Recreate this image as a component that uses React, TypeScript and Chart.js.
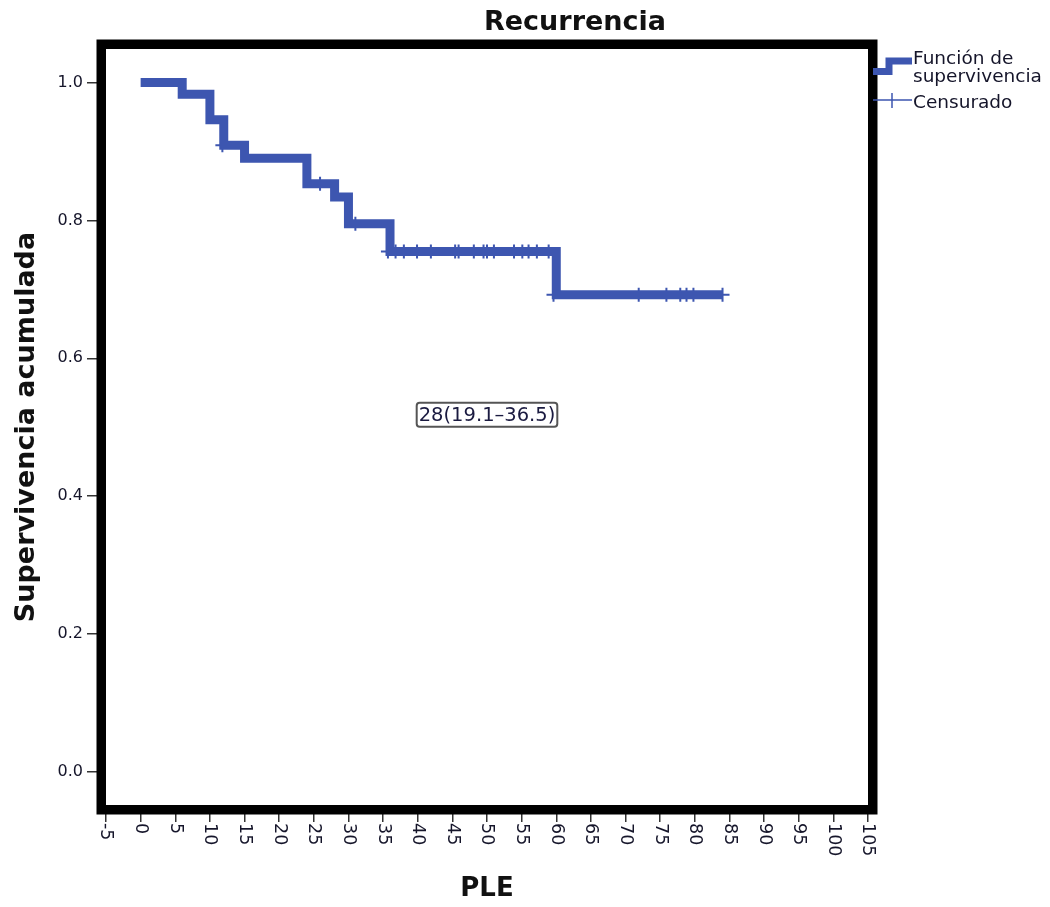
import React, { useEffect, useRef } from "react";
import { Chart, registerables } from "chart.js";

Chart.register(...registerables);

// Kaplan-Meier step curve (time in months, cumulative survival)
const stepTimes = [0, 6, 10, 12, 15, 24, 28, 30, 36, 60, 84];
const stepSurvival = [1.0, 0.983, 0.946, 0.909, 0.89, 0.853, 0.834, 0.795, 0.755, 0.692, 0.692];

// Censored observations
const censorTimes = [
  11.8, 25.9, 31.0, 35.7, 36.8, 38.0, 39.9, 41.9, 45.4, 45.9, 48.1, 49.5, 50.0,
  51.0, 53.9, 55.1, 56.0, 57.2, 58.9, 59.6, 71.9, 75.9, 77.9, 78.8, 79.8, 84.0,
];
const censorSurvival = [
  0.909, 0.853, 0.795, 0.755, 0.755, 0.755, 0.755, 0.755, 0.755, 0.755, 0.755,
  0.755, 0.755, 0.755, 0.755, 0.755, 0.755, 0.755, 0.755, 0.692, 0.692, 0.692,
  0.692, 0.692, 0.692, 0.692,
];

const xMin = -5;
const xMax = 105;
const xStep = 5;
const yMin = -0.048;
const yMax = 1.0486;
const yStep = 0.2;

const titleText = "Recurrencia";
const xTitle = "PLE";
const yTitle = "Supervivencia acumulada";
const legendLabels = ["Función de", "supervivencia", "Censurado"];
const annotationText = "28(19.1–36.5)";
const annotationX = 50;
const annotationY = 0.518;

const BLUE = "#3d56b0";
const FONT = "'DejaVu Sans', sans-serif";
const TEXT = "#15152a";

const decorPlugin = {
  id: "decor",
  afterDraw(chart: any) {
    const { ctx, chartArea } = chart;
    const xs = chart.scales.x;
    const ys = chart.scales.y;
    ctx.save();

    // thick black frame
    const bw = 9.5;
    ctx.strokeStyle = "#000";
    ctx.lineWidth = bw;
    ctx.strokeRect(
      chartArea.left - bw / 2,
      chartArea.top - bw / 2,
      chartArea.right - chartArea.left + bw,
      chartArea.bottom - chartArea.top + bw
    );

    // rotated x tick labels (reading downward)
    ctx.fillStyle = TEXT;
    ctx.font = `17.5px ${FONT}`;
    ctx.textAlign = "left";
    ctx.textBaseline = "middle";
    for (const t of xs.ticks) {
      const px = xs.getPixelForValue(t.value);
      ctx.save();
      ctx.translate(px, chartArea.bottom + 18);
      ctx.rotate(Math.PI / 2);
      ctx.fillText(String(Math.round(t.value)), 0, 0);
      ctx.restore();
    }

    // title
    ctx.font = `bold 27px ${FONT}`;
    ctx.textAlign = "center";
    ctx.textBaseline = "middle";
    ctx.fillStyle = "#111";
    ctx.fillText(titleText, 567, 15);

    // legend
    const lx = chartArea.right + 5;
    ctx.strokeStyle = BLUE;
    ctx.lineWidth = 7;
    ctx.lineJoin = "miter";
    ctx.beginPath();
    ctx.moveTo(lx, 63.5);
    ctx.lineTo(lx + 16, 63.5);
    ctx.lineTo(lx + 16, 53);
    ctx.lineTo(lx + 39, 53);
    ctx.stroke();

    ctx.lineWidth = 1.5;
    ctx.beginPath();
    ctx.moveTo(lx, 92);
    ctx.lineTo(lx + 39, 92);
    ctx.moveTo(lx + 19, 85);
    ctx.lineTo(lx + 19, 100);
    ctx.stroke();

    ctx.fillStyle = TEXT;
    ctx.font = `18.5px ${FONT}`;
    ctx.textAlign = "left";
    ctx.textBaseline = "alphabetic";
    ctx.fillText(legendLabels[0], lx + 40, 56);
    ctx.fillText(legendLabels[1], lx + 40, 74);
    ctx.fillText(legendLabels[2], lx + 40, 100);

    // annotation box
    const ax = xs.getPixelForValue(annotationX);
    const ay = ys.getPixelForValue(annotationY);
    ctx.font = `19.5px ${FONT}`;
    const tw = ctx.measureText(annotationText).width;
    const bwid = tw + 4;
    const bh = 24;
    ctx.strokeStyle = "#555";
    ctx.lineWidth = 2;
    ctx.beginPath();
    ctx.roundRect(ax - bwid / 2, ay - bh / 2, bwid, bh, 3);
    ctx.fillStyle = "#fff";
    ctx.fill();
    ctx.stroke();
    ctx.fillStyle = "#1a1a40";
    ctx.textAlign = "center";
    ctx.textBaseline = "middle";
    ctx.fillText(annotationText, ax, ay + 1);

    ctx.restore();
  },
};

export default function App() {
  const ref = useRef<HTMLCanvasElement | null>(null);

  useEffect(() => {
    if (!ref.current) return;
    const stepData = stepTimes.map((t, i) => ({ x: t, y: stepSurvival[i] }));
    const censorData = censorTimes.map((t, i) => ({ x: t, y: censorSurvival[i] }));

    const chart = new Chart(ref.current, {
      type: "line",
      data: {
        datasets: [
          {
            label: "Función de supervivencia",
            data: stepData,
            stepped: true,
            borderColor: BLUE,
            borderWidth: 9,
            borderJoinStyle: "miter",
            borderCapStyle: "butt",
            pointRadius: 0,
            fill: false,
          },
          {
            label: "Censurado",
            data: censorData,
            showLine: false,
            pointStyle: "cross",
            pointRadius: 7,
            pointBorderWidth: 2,
            pointBorderColor: BLUE,
            borderColor: BLUE,
            backgroundColor: BLUE,
          },
        ],
      },
      options: {
        animation: false,
        responsive: false,
        maintainAspectRatio: false,
        layout: { padding: { left: 0, right: 174, top: 41, bottom: 0 } },
        plugins: {
          legend: { display: false },
          title: { display: false },
          tooltip: { enabled: false },
        },
        scales: {
          x: {
            type: "linear",
            min: xMin,
            max: xMax,
            ticks: { display: false, stepSize: xStep },
            grid: {
              drawOnChartArea: false,
              drawTicks: true,
              tickLength: 17,
              color: "#333",
              lineWidth: 1.5,
            },
            border: { display: false },
            title: {
              display: true,
              text: xTitle,
              color: "#111",
              font: { family: FONT, size: 26, weight: "bold", lineHeight: 0.7 },
              padding: { top: 0, bottom: 1 },
            },
            afterFit: (s: any) => {
              s.height = 94;
            },
          },
          y: {
            type: "linear",
            min: yMin,
            max: yMax,
            ticks: {
              stepSize: yStep,
              includeBounds: false,
              padding: 4,
              color: TEXT,
              font: { family: FONT, size: 16 },
              callback: (v: any) => Number(v).toFixed(1),
            },
            grid: {
              drawOnChartArea: false,
              drawTicks: true,
              tickLength: 19,
              color: "#333",
              lineWidth: 1.5,
            },
            border: { display: false },
            title: {
              display: true,
              text: yTitle,
              color: "#111",
              font: { family: FONT, size: 27, weight: "bold", lineHeight: 1 },
              padding: { top: 5, bottom: 0 },
            },
            afterFit: (s: any) => {
              s.width = 98;
            },
          },
        },
      },
      plugins: [decorPlugin],
    });
    return () => chart.destroy();
  }, []);

  return <canvas ref={ref} width={1034} height={891} style={{ display: "block" }} />;
}
